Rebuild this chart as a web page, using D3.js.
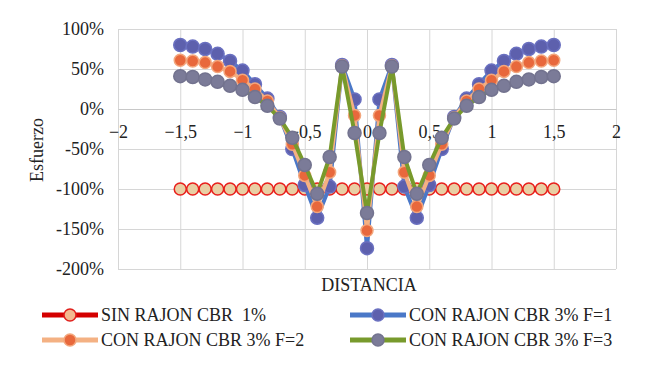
<!DOCTYPE html>
<html>
<head>
<meta charset="utf-8">
<script src="https://cdn.jsdelivr.net/npm/d3@7/dist/d3.min.js"></script>
<style>
  body { margin: 0; background: #fff; }
  svg text { font-family: "Liberation Serif", "Times New Roman", Times, serif !important; white-space: pre; }
</style>
</head>
<body>
<div id="chart"></div>
<script>
// distancias (eje x)
const distancia = [-1.5, -1.4, -1.3, -1.2, -1.1, -1.0, -0.9, -0.8, -0.7, -0.6, -0.5, -0.4, -0.3, -0.2, -0.1, 0,
  0.1, 0.2, 0.3, 0.4, 0.5, 0.6, 0.7, 0.8, 0.9, 1.0, 1.1, 1.2, 1.3, 1.4, 1.5];

// esfuerzo en %
const sinRajon = [-100, -100, -100, -100, -100, -100, -100, -100, -100, -100, -100, -100, -100, -100, -100, -100,
  -100, -100, -100, -100, -100, -100, -100, -100, -100, -100, -100, -100, -100, -100, -100];
const conRajonF1 = [80, 78, 75, 69, 60, 48, 31, 13, -10, -50, -95, -136, -97, 55, 12, -174,
  12, 55, -97, -136, -95, -50, -10, 13, 31, 48, 60, 69, 75, 78, 80];
const conRajonF2 = [61, 60, 58, 53, 47, 36, 25, 10, -11, -44, -83, -122, -79, 54, -8, -152,
  -8, 54, -79, -122, -83, -44, -11, 10, 25, 36, 47, 53, 58, 60, 61];
const conRajonF3 = [41, 40, 37, 34, 29, 24, 15, 4, -12, -36, -70, -106, -60, 53, -30, -130,
  -30, 53, -60, -106, -70, -36, -12, 4, 15, 24, 29, 34, 37, 40, 41];

const xTicks = [-2, -1.5, -1, -0.5, 0, 0.5, 1, 1.5, 2];
const yTicks = [100, 50, 0, -50, -100, -150, -200];

const series = [
  { name: "SIN RAJON CBR  1%", values: sinRajon, line: "#ff1a1a", fill: "#e9cfa4", stroke: "#e8201c", r: 6 },
  { name: "CON RAJON CBR 3% F=1", values: conRajonF1, line: "#4a78c8", fill: "#5d60ad", stroke: "#6a70c0", r: 6.5 },
  { name: "CON RAJON CBR 3% F=2", values: conRajonF2, line: "#f4b183", fill: "#e8683c", stroke: "#f3a67c", r: 6 },
  { name: "CON RAJON CBR 3% F=3", values: conRajonF3, line: "#789a2c", fill: "#7b7b98", stroke: "#73738f", r: 6.5 }
];

const W = 650, H = 370;
const plot = { left: 118, right: 616, top: 29, bottom: 269 };

const svg = d3.select("#chart").append("svg")
  .attr("width", W)
  .attr("height", H);

const x = d3.scaleLinear().domain([-2, 2]).range([plot.left, plot.right]);
const y = d3.scaleLinear().domain([-200, 100]).range([plot.bottom, plot.top]);

const fmtX = d => d3.format(".1~f")(d).replace(".", ",");

// rejilla vertical
svg.append("g")
  .attr("transform", `translate(0,${plot.bottom})`)
  .call(d3.axisBottom(x).tickValues(xTicks).tickSize(-(plot.bottom - plot.top)).tickFormat(""))
  .call(g => g.select(".domain").remove())
  .call(g => g.selectAll("line").attr("stroke", "#d6d6d6"));

// eje y con rejilla horizontal
svg.append("g")
  .attr("transform", `translate(${plot.left},0)`)
  .call(d3.axisLeft(y).tickValues(yTicks).tickSize(-(plot.right - plot.left)).tickPadding(14)
    .tickFormat(d => d + "%"))
  .call(g => g.select(".domain").remove())
  .call(g => g.selectAll("line").attr("stroke", "#d6d6d6"))
  .call(g => g.selectAll("text").attr("font-size", 18).attr("fill", "#222"));

// eje x en 0%
svg.append("g")
  .attr("transform", `translate(0,${y(0)})`)
  .call(d3.axisBottom(x).tickValues(xTicks).tickSize(0).tickPadding(16).tickFormat(fmtX))
  .call(g => g.select(".domain").attr("stroke", "#c8c8c8"))
  .call(g => g.selectAll("text").attr("font-size", 18).attr("fill", "#222"));

// series
const line = d3.line()
  .x((d, i) => x(distancia[i]))
  .y(d => y(d));

series.forEach(s => {
  svg.append("path")
    .datum(s.values)
    .attr("fill", "none")
    .attr("stroke", s.line)
    .attr("stroke-width", 4)
    .attr("stroke-linejoin", "round")
    .attr("d", line);

  svg.append("g").selectAll("circle")
    .data(s.values)
    .join("circle")
    .attr("cx", (d, i) => x(distancia[i]))
    .attr("cy", d => y(d))
    .attr("r", s.r)
    .attr("fill", s.fill)
    .attr("stroke", s.stroke)
    .attr("stroke-width", 1.5);
});

// títulos de ejes
svg.append("text")
  .attr("transform", "rotate(-90)")
  .attr("x", -150)
  .attr("y", 43)
  .attr("text-anchor", "middle")
  .attr("font-size", 18)
  .attr("fill", "#222")
  .text("Esfuerzo");

svg.append("text")
  .attr("x", 369)
  .attr("y", 291)
  .attr("text-anchor", "middle")
  .attr("font-size", 18)
  .attr("fill", "#222")
  .text("DISTANCIA");

// leyenda
const legendPos = [[42, 315], [350, 315], [42, 340], [350, 340]];
series.forEach((s, i) => {
  const [lx, ly] = legendPos[i];
  const g = svg.append("g").attr("transform", `translate(${lx},${ly})`);
  g.append("line")
    .attr("x1", 0).attr("x2", 56)
    .attr("y1", 0).attr("y2", 0)
    .attr("stroke", i === 0 ? "#d40000" : s.line)
    .attr("stroke-width", 5);
  g.append("circle")
    .attr("cx", 28).attr("cy", 0)
    .attr("r", 6)
    .attr("fill", i === 0 ? "#f3b98f" : s.fill)
    .attr("stroke", i === 0 ? "#e0201c" : s.stroke)
    .attr("stroke-width", 1.5);
  g.append("text")
    .attr("x", 59)
    .attr("y", 0)
    .attr("dy", "0.35em")
    .attr("font-size", 18)
    .attr("fill", "#222")
    .text(s.name);
});
</script>
</body>
</html>
